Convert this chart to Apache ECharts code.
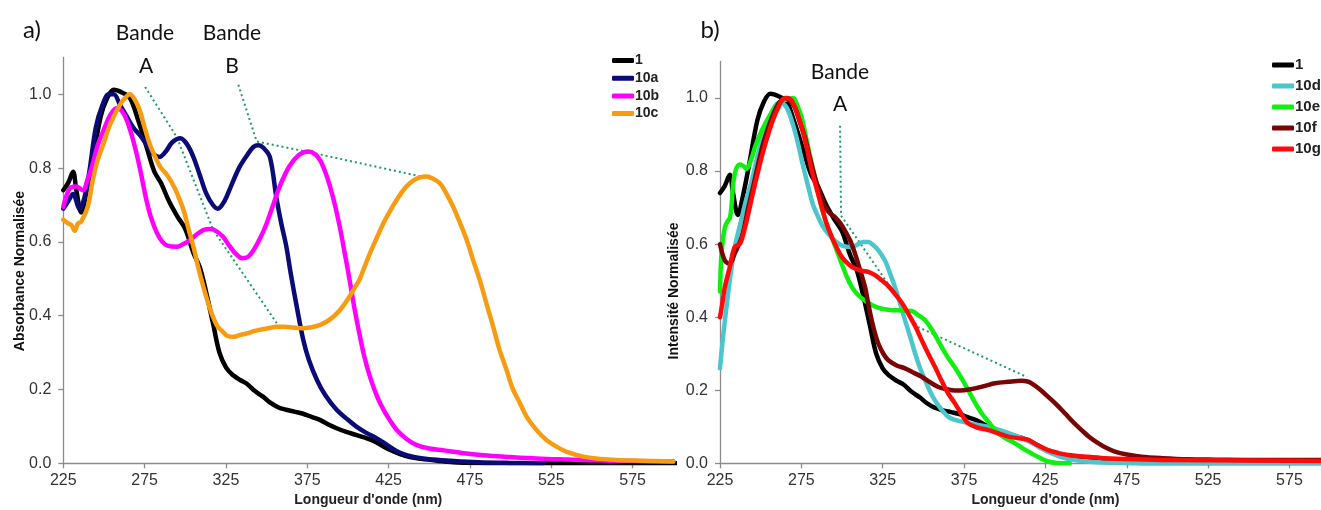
<!DOCTYPE html>
<html>
<head>
<meta charset="utf-8">
<script src="https://cdn.jsdelivr.net/npm/echarts@6/dist/echarts.min.js"></script>
<style>
html,body{margin:0;padding:0;background:#fff;}
#chart{width:1321px;height:510px;}
</style>
</head>
<body>
<div id="chart"></div>
<script>
// ---- tick labels ----
const wavelengthTicks = [225, 275, 325, 375, 425, 475, 525, 575];
const intensityTicks = [0, 0.2, 0.4, 0.6, 0.8, 1.0];

// ---- panel a) absorbance series [nm, value] ----
const s1 = [[225,0.74],[228,0.76],[231,0.79],[233,0.74],[236,0.68],[239,0.73],[243,0.82],[248,0.94],[252,0.99],[256,1.012],[261,1.005],[266,0.99],[271,0.93],[276,0.86],[281,0.79],[285,0.76],[290,0.71],[295,0.67],[300,0.635],[305,0.57],[309,0.53],[313,0.46],[317,0.38],[321,0.30],[325,0.26],[329,0.24],[334,0.225],[338,0.215],[343,0.195],[348,0.18],[352,0.165],[357,0.152],[362,0.145],[367,0.14],[372,0.135],[378,0.125],[383,0.117],[388,0.105],[393,0.095],[399,0.085],[405,0.077],[410,0.07],[415,0.062],[420,0.05],[426,0.036],[432,0.025],[438,0.017],[445,0.012],[455,0.007],[465,0.003],[480,0.001],[500,0],[550,0],[600,0],[625,0]];
const s10a = [[225,0.69],[228,0.71],[231,0.73],[235,0.69],[238,0.72],[241,0.79],[245,0.91],[249,0.97],[253,1.0],[256,1.0],[260,0.97],[264,0.94],[268,0.91],[272,0.89],[276,0.865],[280,0.84],[284,0.83],[288,0.845],[292,0.87],[297,0.881],[301,0.865],[305,0.83],[309,0.78],[313,0.73],[317,0.70],[320,0.69],[324,0.71],[328,0.75],[333,0.80],[338,0.835],[342,0.858],[345,0.862],[348,0.855],[352,0.83],[356,0.72],[359,0.65],[362,0.59],[365,0.51],[368.5,0.425],[372.5,0.335],[376,0.28],[381,0.225],[386,0.185],[393,0.145],[400,0.118],[405,0.10],[411,0.083],[418,0.067],[424,0.05],[430,0.033],[436,0.022],[442,0.016],[450,0.011],[463,0.007],[480,0.003],[500,0.001],[520,0]];
const s10b = [[225,0.695],[229,0.745],[233,0.75],[237,0.74],[240,0.77],[243,0.81],[246,0.86],[250,0.905],[254,0.945],[258,0.963],[261,0.955],[264,0.93],[267,0.89],[270,0.84],[273,0.78],[276,0.715],[279,0.665],[282.5,0.625],[286,0.60],[289,0.59],[295,0.587],[299,0.595],[303,0.605],[307,0.62],[311,0.632],[315,0.635],[318,0.632],[323,0.615],[327,0.59],[331,0.568],[335,0.556],[338,0.558],[342,0.578],[346,0.61],[350,0.65],[354,0.70],[358,0.75],[364,0.805],[370,0.836],[375.5,0.845],[380,0.837],[383,0.82],[386,0.79],[389,0.75],[392,0.70],[395,0.64],[398,0.57],[401,0.497],[404,0.42],[407,0.352],[410,0.29],[413.5,0.235],[418,0.18],[422,0.144],[426,0.115],[430,0.09],[436,0.066],[442,0.05],[450,0.04],[459,0.035],[470,0.028],[483,0.022],[500,0.017],[516,0.013],[535,0.01],[550,0.008],[575,0.006],[600,0.005]];
const s10c = [[225,0.66],[228,0.65],[230,0.645],[232,0.63],[234,0.65],[236,0.655],[240,0.695],[243,0.765],[246,0.82],[250,0.87],[253,0.91],[256,0.94],[259,0.965],[262,0.985],[266,1.0],[269,0.985],[272,0.957],[275,0.91],[278,0.867],[281,0.835],[284.5,0.804],[289,0.78],[293,0.75],[296,0.72],[299,0.685],[302,0.635],[305,0.587],[308,0.53],[311,0.48],[314,0.435],[317,0.397],[320,0.37],[323,0.357],[326,0.345],[330,0.343],[334,0.348],[338,0.352],[342,0.358],[346,0.362],[351,0.366],[356,0.37],[361,0.37],[366,0.368],[371,0.366],[377,0.368],[383,0.375],[389,0.39],[395,0.415],[400,0.445],[404,0.475],[407,0.497],[410,0.53],[413.5,0.569],[417.6,0.61],[421.7,0.65],[426,0.685],[430,0.714],[434,0.74],[438,0.759],[443,0.773],[448.4,0.777],[452,0.772],[456.5,0.759],[460,0.735],[464.7,0.695],[469,0.65],[473,0.605],[477,0.55],[481,0.497],[485,0.435],[489.3,0.37],[493,0.31],[497.5,0.253],[501,0.205],[505.7,0.163],[510,0.125],[516,0.09],[522,0.063],[528.3,0.045],[535,0.03],[544.6,0.018],[555,0.012],[565,0.009],[580,0.007],[600,0.005]];

// ---- panel b) intensity series [nm, value] ----
const s10d = [[225,0.26],[226.5,0.33],[228,0.39],[231,0.50],[234,0.59],[238,0.665],[241,0.72],[244.5,0.774],[247.5,0.83],[250.6,0.883],[254,0.93],[256.8,0.962],[260,0.985],[262,0.988],[265,0.98],[267,0.965],[270,0.925],[273,0.874],[276,0.815],[279.3,0.756],[282,0.71],[285.4,0.674],[288,0.65],[291.6,0.628],[296,0.608],[300,0.596],[306,0.592],[310,0.60],[313,0.606],[316,0.606],[318.5,0.60],[322,0.585],[326.4,0.555],[329.5,0.52],[332.5,0.483],[335.5,0.44],[338.7,0.392],[342,0.345],[345,0.30],[348,0.26],[351,0.228],[354,0.198],[357,0.173],[361,0.148],[365.3,0.127],[370,0.118],[375.6,0.112],[382,0.106],[390,0.1],[396,0.092],[402,0.083],[410,0.07],[417,0.055],[423,0.04],[430,0.025],[438,0.013],[448,0.006],[460,0.002],[480,0],[625,0]];
const s10e = [[225,0.47],[226,0.58],[228,0.646],[230,0.665],[231,0.67],[232,0.70],[233,0.76],[234.5,0.80],[237,0.818],[239,0.815],[241.4,0.806],[244,0.83],[246.5,0.865],[249.5,0.90],[252.7,0.929],[256,0.955],[258.8,0.974],[261,0.985],[264,0.993],[267,0.997],[270,1.0],[272.5,0.98],[275.2,0.947],[278,0.89],[281.4,0.82],[284.5,0.76],[287.5,0.701],[290.5,0.655],[293.7,0.619],[297,0.58],[299.8,0.546],[303,0.51],[306,0.483],[310,0.46],[314,0.446],[319,0.432],[324.4,0.423],[329.5,0.42],[334.6,0.419],[339,0.418],[342.8,0.417],[347,0.405],[351,0.392],[356,0.36],[361.2,0.319],[365,0.29],[369.4,0.262],[374.5,0.225],[377.6,0.20],[381.5,0.168],[385.8,0.137],[391,0.108],[396,0.082],[401,0.067],[406.3,0.055],[411,0.041],[416.5,0.027],[421.5,0.015],[426.7,0.005],[432,0.001],[440,0]];
const s10f = [[225,0.60],[228,0.555],[231,0.546],[234,0.574],[238.3,0.619],[242.4,0.701],[245.5,0.76],[248.5,0.82],[251.5,0.875],[254.7,0.92],[257.7,0.955],[260.8,0.984],[263,0.995],[265,1.0],[268,0.993],[271,0.974],[274,0.935],[277.2,0.892],[280.3,0.835],[283.4,0.783],[286.5,0.74],[289.6,0.701],[292.7,0.684],[295.7,0.674],[298.8,0.658],[301.8,0.637],[305,0.61],[308,0.574],[311,0.53],[314.1,0.483],[316,0.44],[318.2,0.392],[320.3,0.355],[322.3,0.328],[325.4,0.30],[328.5,0.282],[333.6,0.268],[338.7,0.26],[344,0.248],[349,0.237],[354,0.222],[359.2,0.209],[364,0.203],[369.4,0.199],[375,0.2],[381.7,0.205],[388,0.212],[394,0.219],[402,0.223],[410.4,0.226],[414,0.224],[416.5,0.219],[421.5,0.203],[426.7,0.182],[432,0.16],[437,0.137],[442,0.113],[447.2,0.091],[452,0.072],[457.4,0.055],[462,0.043],[467.7,0.032],[475,0.024],[484,0.018],[497,0.014],[512.7,0.011],[530,0.01],[554,0.009],[595,0.009],[625,0.009]];
const s10g = [[225,0.40],[226.5,0.44],[228,0.483],[231,0.537],[234,0.592],[237.3,0.601],[239.5,0.63],[242.4,0.683],[245.5,0.745],[248.5,0.801],[251.6,0.855],[254.7,0.902],[257.7,0.942],[260.8,0.974],[263.9,0.998],[266.5,1.0],[269,0.993],[272,0.965],[275.2,0.92],[278.3,0.865],[281.4,0.801],[284.5,0.75],[287.5,0.701],[290.6,0.655],[293.7,0.619],[296.8,0.59],[299.8,0.565],[304,0.545],[308,0.533],[312,0.527],[316.2,0.524],[320.3,0.515],[324.4,0.501],[328.5,0.485],[332.5,0.464],[336.6,0.44],[340.7,0.41],[345,0.375],[349,0.337],[353,0.30],[357.1,0.264],[361.2,0.226],[365.3,0.191],[369.4,0.164],[374.5,0.127],[377.6,0.109],[383,0.098],[390,0.091],[396,0.082],[402.2,0.073],[408,0.069],[414.5,0.064],[420,0.05],[426.7,0.036],[433,0.028],[439,0.023],[450,0.018],[461.6,0.014],[480,0.011],[500,0.009],[550,0.008],[600,0.006],[625,0.006]];

// ---- dotted band guide lines [nm, value] ----
const bandA_a = [[275.3,1.02],[294.8,0.884],[317.2,0.632],[356.2,0.38]];
const bandB_a = [[332.6,1.026],[343.9,0.872],[375.4,0.844],[450.4,0.772]];
const bandA_b = [[298.8,0.924],[299.4,0.678],[346.7,0.373],[413.7,0.236]];

const namesA = ['1', '10a', '10b', '10c'];
const namesB = ['1', '10d', '10e', '10f', '10g'];
const colors = {'1':'#000000','10a':'#0b0b78','10b':'#ff00ff','10c':'#f79b13','10d':'#4cc6cc','10e':'#11ee11','10f':'#7a0505','10g':'#ff0a0a'};

const chart = echarts.init(document.getElementById('chart'), null, {renderer:'canvas'});

function curve(name, data, idx) {
  return {
    name: name, type: 'line', data: data, xAxisIndex: idx, yAxisIndex: idx,
    showSymbol: false, symbol: 'none', smooth: 0.35, clip: true,
    lineStyle: {color: colors[name], width: 4.5, cap: 'round', join: 'round'},
    itemStyle: {color: colors[name]},
    emphasis: {disabled: true}, z: 3
  };
}
function guide(data, idx) {
  return {
    type: 'line', data: data, xAxisIndex: idx, yAxisIndex: idx,
    showSymbol: false, symbol: 'none', silent: true,
    lineStyle: {color: '#1f9a6c', width: 2, type: [2, 3]}, z: 2
  };
}
function xAx(idx, max) {
  return {
    type: 'value', gridIndex: idx, min: 225, max: max,
    name: "Longueur d'onde (nm)", nameLocation: 'middle', nameGap: 28,
    nameTextStyle: {fontFamily: 'Liberation Sans', fontWeight: 'bold', fontSize: 14, color: '#222'},
    axisLine: {lineStyle: {color: '#8c8c8c', width: 1.3}},
    axisTick: {show: true, length: 5, lineStyle: {color: '#8c8c8c', width: 1.3}, customValues: wavelengthTicks},
    axisLabel: {customValues: wavelengthTicks, fontFamily: 'Liberation Sans', fontSize: 16, color: '#333', margin: 9},
    splitLine: {show: false}
  };
}
function yAx(idx) {
  return {
    type: 'value', gridIndex: idx, min: 0, max: 1.1,
    axisLine: {show: true, lineStyle: {color: '#8c8c8c', width: 1.3}},
    axisTick: {show: true, length: 5, lineStyle: {color: '#8c8c8c', width: 1.3}, customValues: intensityTicks},
    axisLabel: {customValues: intensityTicks, formatter: v => v.toFixed(1), fontFamily: 'Liberation Sans', fontSize: 16, color: '#333', margin: 12},
    splitLine: {show: false}
  };
}
function txt(x, y, s, size, rot, bold, fam) {
  return {
    type: 'text', x: x, y: y, rotation: rot || 0, silent: true,
    style: {text: s, fontSize: size, fontFamily: fam || 'Lato', fontWeight: bold ? 'bold' : 'normal', fill: '#111', align: 'center', verticalAlign: 'middle'}
  };
}

const option = {
  animation: false,
  backgroundColor: '#ffffff',
  grid: [
    {left: 63.3, top: 57.4, width: 610, height: 405.9, outerBoundsMode: 'none', containLabel: false},
    {left: 720, top: 61.5, width: 650.8, height: 401.8, outerBoundsMode: 'none', containLabel: false}
  ],
  xAxis: [xAx(0, 600), xAx(1, 625)],
  yAxis: [yAx(0), yAx(1)],
  legend: [
    {data: namesA, orient: 'vertical', left: 612, top: 53.5, width: 80, padding: 0, icon: 'roundRect', itemWidth: 22, itemHeight: 5, itemGap: 3.7,
     textStyle: {fontFamily: 'Liberation Sans', fontWeight: 'bold', fontSize: 14, color: '#222', lineHeight: 14, overflow: 'none', padding: [0, 0, 0, -4]}, selectedMode: false},
    {data: namesB, orient: 'vertical', left: 1272, top: 57.5, width: 80, padding: 0, icon: 'roundRect', itemWidth: 22, itemHeight: 5, itemGap: 6,
     textStyle: {fontFamily: 'Liberation Sans', fontWeight: 'bold', fontSize: 15, color: '#222', lineHeight: 15, overflow: 'none', padding: [0, 0, 0, -4]}, selectedMode: false}
  ],
  graphic: [
    txt(32, 30, 'a)', 24),
    txt(710, 30, 'b)', 24),
    txt(145, 33, 'Bande', 21),
    txt(146, 66, 'A', 21),
    txt(232, 33, 'Bande', 21),
    txt(232, 66, 'B', 21),
    txt(840, 72, 'Bande', 21),
    txt(840, 104, 'A', 21),
    txt(20, 271, 'Absorbance Normalisée', 14, Math.PI / 2, true, 'Liberation Sans'),
    txt(674, 291, 'Intensité Normalisée', 14, Math.PI / 2, true, 'Liberation Sans')
  ],
  series: [
    guide(bandA_a, 0), guide(bandB_a, 0), guide(bandA_b, 1),
    curve('1', s1, 0), curve('10a', s10a, 0), curve('10b', s10b, 0), curve('10c', s10c, 0),
    curve('1', s1, 1), curve('10d', s10d, 1), curve('10e', s10e, 1), curve('10f', s10f, 1), curve('10g', s10g, 1)
  ]
};
chart.setOption(option);
</script>
</body>
</html>
